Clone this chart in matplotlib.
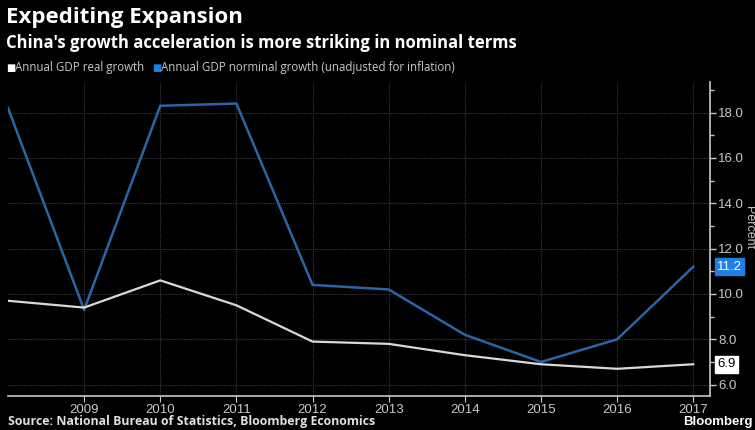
import numpy as np
import matplotlib.pyplot as plt
from matplotlib.ticker import MultipleLocator

years = [2008, 2009, 2010, 2011, 2012, 2013, 2014, 2015, 2016, 2017]
real_growth = [9.7, 9.4, 10.6, 9.5, 7.9, 7.8, 7.3, 6.9, 6.7, 6.9]
nominal_growth = [18.2, 9.3, 18.3, 18.4, 10.4, 10.2, 8.2, 7.0, 8.0, 11.2]
year_labels = ['2009', '2010', '2011', '2012', '2013', '2014', '2015', '2016', '2017']

BG = 'black'
BLUE = '#2b65a8'
BLUE_TAG = '#1f7fe0'
WHITE = '#d9d9d9'
TICKC = '#c8c8c8'
narrow = ['Liberation Sans', 'DejaVu Sans']
bold = ['Open Sans', 'DejaVu Sans']

fig = plt.figure(figsize=(7.55, 4.3), dpi=100, facecolor=BG)
ax = fig.add_axes([8/755, 1-396/430, (710-8)/755, (396-82)/430], facecolor=BG)

ax.plot(years, nominal_growth, color=BLUE, lw=1.8, zorder=3)
ax.plot(years, real_growth, color=WHITE, lw=1.6, zorder=4)

ax.set_xlim(2008, 2017.22)
ax.set_ylim(5.5, 19.35)

ax.yaxis.tick_right()
ax.yaxis.set_minor_locator(MultipleLocator(1))
ax.set_yticks(np.arange(6, 19, 2))
ax.set_yticklabels(['%.1f' % v for v in np.arange(6, 19, 2)], fontfamily=narrow, fontsize=9.5)
ax.set_xticks(years[1:])
ax.set_xticklabels(year_labels, fontfamily=narrow, fontsize=9.5)
ax.tick_params(axis='y', which='both', direction='out', color=TICKC, labelcolor=TICKC, length=4, width=1, pad=2)
ax.tick_params(axis='y', which='minor', length=3)
ax.tick_params(axis='x', direction='out', color=TICKC, labelcolor=TICKC, length=4, pad=2)

for s in ['top', 'left']:
    ax.spines[s].set_visible(False)
for s in ['right', 'bottom']:
    ax.spines[s].set_color(TICKC)
    ax.spines[s].set_linewidth(1.2)

ax.grid(True, which='major', color='#3a3a3a', lw=0.8, ls=(0, (1, 1)))

fig.text(749/755, 1-228/430, 'Percent', color=TICKC, fontsize=9, rotation=270, fontfamily=narrow,
         va='center', ha='center')

# end-value tags on the right axis
ax.annotate('%.1f' % nominal_growth[-1], xy=(1.0, nominal_growth[-1]), xycoords=('axes fraction', 'data'),
            xytext=(5, 0), textcoords='offset points', va='center', ha='left', color='white',
            fontsize=9.5, fontfamily=narrow,
            bbox=dict(boxstyle='square,pad=0.18', fc=BLUE_TAG, ec=BLUE_TAG))
ax.annotate('%.1f' % real_growth[-1], xy=(1.0, real_growth[-1]), xycoords=('axes fraction', 'data'),
            xytext=(5, 0), textcoords='offset points', va='center', ha='left', color='black',
            fontsize=9.5, fontfamily=narrow,
            bbox=dict(boxstyle='square,pad=0.18', fc='white', ec='white'))

fig.text(6/755, 1-18/430, 'Expediting Expansion', color='white', fontsize=16, fontweight='bold',
         fontfamily=bold, va='center', ha='left')
fig.text(6/755, 1-43/430, "China's growth acceleration is more striking in nominal terms", color='white',
         fontsize=12, fontweight='bold', fontfamily=bold, va='center', ha='left')

fig.text(6/755, 1-68/430, '\u25a0', color='white', fontsize=7, va='center', ha='left')
fig.text(15/755, 1-68/430, 'Annual GDP real growth', color=TICKC, fontsize=8.3, fontfamily=bold, va='center')
fig.text(152/755, 1-68/430, '\u25a0', color=BLUE_TAG, fontsize=7, va='center', ha='left')
fig.text(161/755, 1-68/430, 'Annual GDP norminal growth (unadjusted for inflation)', color=TICKC,
         fontsize=8.3, fontfamily=bold, va='center')

fig.text(8/755, 1-422/430, 'Source: National Bureau of Statistics, Bloomberg Economics', color='#e0e0e0',
         fontsize=8.9, fontweight='bold', fontfamily=bold, va='center')
fig.text(753/755, 1-422/430, 'Bloomberg', color='white', fontsize=9.5, fontfamily=narrow, fontweight='bold',
         va='center', ha='right')

fig.savefig('out.png', dpi=100, facecolor=BG)
